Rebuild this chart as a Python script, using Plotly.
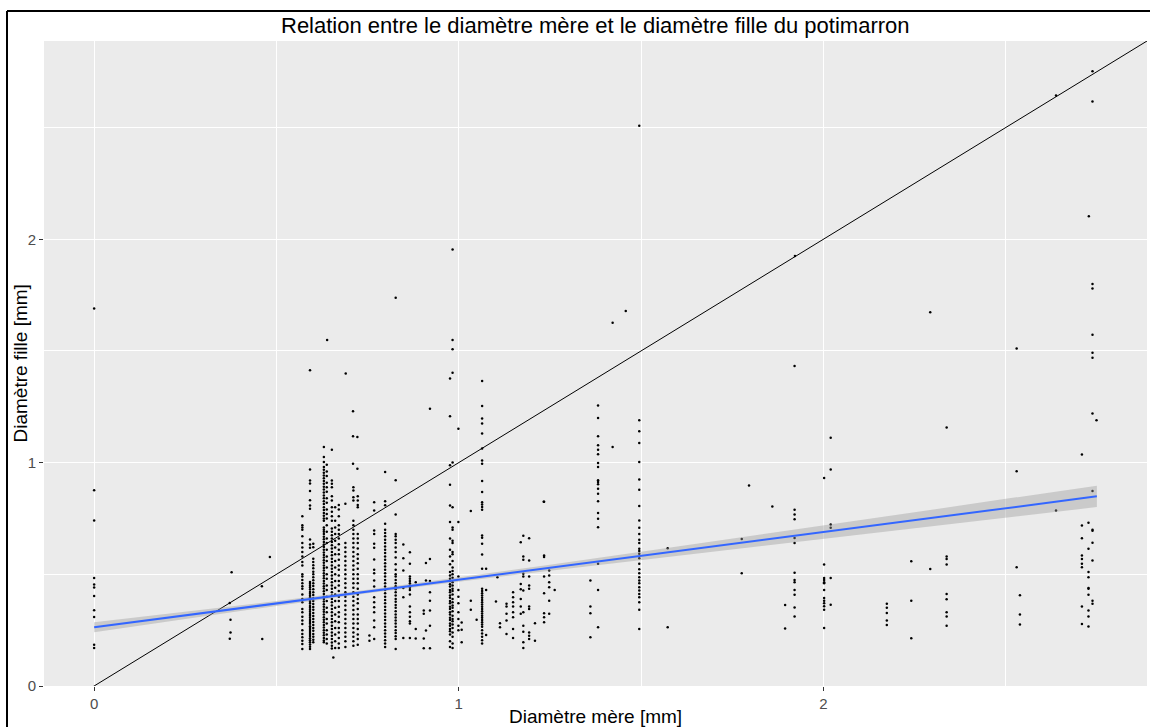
import numpy as np
import plotly.graph_objects as go

# --- isolated measurements (diamètre mère, diamètre fille) in mm ---
mere_isoles = [
    0, 0, 0, 0, 0, 0, 0, 0, 0, 0, 0,
    0.377, 0.372, 0.374, 0.374, 0.372, 0.460, 0.461, 0.482,
    0.639, 0.592, 0.690, 0.710, 0.710, 0.722, 0.710, 0.722,
    0.921, 0.999, 0.827, 1.233, 1.422, 1.458, 1.495, 1.422,
    1.922, 2.638, 2.293, 2.338, 2.530, 2.530, 2.530, 2.638, 2.728, 2.749,
    1.776, 1.776, 1.796, 1.860, 1.895, 1.895, 2.241, 2.241, 2.241, 2.293,
    1.075, 1.075, 1.075, 1.033, 1.033, 1.033, 1.049, 1.008, 1.008, 1.008,
    1.102, 1.106, 1.113, 1.113, 1.209, 1.209, 1.263, 1.573, 1.573,
    0.882, 0.882, 0.882, 0.904, 0.904, 0.904, 0.904, 0.910, 0.910, 0.910,
    0.755, 0.755, 0.656,
]
fille_isoles = [
    1.69, 0.876, 0.741, 0.483, 0.454, 0.441, 0.403, 0.339, 0.309, 0.185, 0.170,
    0.509, 0.372, 0.297, 0.239, 0.212, 0.447, 0.210, 0.577,
    1.549, 1.414, 1.399, 1.230, 1.118, 1.115, 0.995, 0.973,
    1.241, 1.152, 1.738, 0.825, 1.626, 1.679, 2.508, 1.070,
    1.925, 2.643, 1.673, 1.157, 1.511, 0.961, 0.532, 0.786, 2.103, 1.190,
    0.658, 0.505, 0.898, 0.804, 0.363, 0.257, 0.559, 0.382, 0.214, 0.524,
    0.525, 0.430, 0.228, 0.783, 0.382, 0.341, 0.297, 0.196, 0.252, 0.284,
    0.378, 0.487, 0.281, 0.263, 0.281, 0.203, 0.430, 0.617, 0.263,
    0.465, 0.255, 0.213, 0.338, 0.323, 0.213, 0.169, 0.551, 0.472, 0.248,
    0.226, 0.203, 0.128,
]

# --- columns of repeated mother diameters ---
colonnes_mere = [
    0.571, 0.592, 0.601, 0.630, 0.638, 0.652, 0.661, 0.671, 0.689, 0.711,
    0.723, 0.768, 0.798, 0.827, 0.848, 0.866, 0.921, 0.976, 0.983, 0.999,
    1.064, 1.131, 1.149, 1.170, 1.177, 1.193, 1.234, 1.248, 1.361, 1.382,
    1.495, 1.921, 2.002, 2.020, 2.174, 2.338, 2.539, 2.709, 2.727, 2.738,
]
colonnes_fille = [
    [0.76, 0.72, 0.71, 0.70, 0.67, 0.64, 0.62, 0.60, 0.58, 0.555, 0.54, 0.50, 0.49, 0.475, 0.46, 0.447,
     0.435, 0.41, 0.39, 0.375, 0.345, 0.33, 0.31, 0.293, 0.278, 0.25, 0.233, 0.218, 0.203, 0.188, 0.166],
    [0.969, 0.92, 0.906, 0.873, 0.831, 0.808, 0.793, 0.656, 0.634, 0.619, 0.466, 0.458, 0.449, 0.441,
     0.432, 0.421, 0.413, 0.404, 0.396, 0.386, 0.377, 0.369, 0.358, 0.350, 0.341, 0.332, 0.322, 0.314,
     0.305, 0.296, 0.287, 0.279, 0.268, 0.260, 0.251, 0.242, 0.233, 0.224, 0.214, 0.205, 0.196, 0.186,
     0.176, 0.166],
    [0.637, 0.621, 0.57, 0.555, 0.541, 0.527, 0.512, 0.50, 0.487, 0.473, 0.46, 0.448, 0.433, 0.42, 0.407,
     0.393, 0.38, 0.367, 0.354, 0.341, 0.327, 0.313, 0.30, 0.287, 0.273, 0.26, 0.247, 0.233, 0.22, 0.207,
     0.196],
    [1.07, 1.025, 1.003, 0.98, 0.968, 0.955, 0.942, 0.93, 0.918, 0.905, 0.892, 0.88, 0.866, 0.853, 0.84,
     0.827, 0.815, 0.80, 0.788, 0.775, 0.762, 0.75, 0.74, 0.71, 0.70, 0.69, 0.68, 0.668, 0.657, 0.645,
     0.633, 0.622, 0.61, 0.598, 0.587, 0.575, 0.563, 0.552, 0.54, 0.528, 0.517, 0.505, 0.494, 0.482,
     0.47, 0.459, 0.447, 0.436, 0.424, 0.412, 0.40, 0.39, 0.378, 0.366, 0.355, 0.343, 0.332, 0.32, 0.308,
     0.297, 0.285, 0.273, 0.262, 0.25, 0.238, 0.227, 0.215, 0.204, 0.196],
    [0.99, 0.96, 0.94, 0.91, 0.89, 0.87, 0.84, 0.82, 0.79, 0.77, 0.75, 0.72, 0.69, 0.66, 0.64, 0.61,
     0.58, 0.56, 0.53, 0.50, 0.48, 0.45, 0.43, 0.40, 0.38, 0.35, 0.33, 0.30, 0.28, 0.25, 0.23, 0.21, 0.19],
    [1.058, 0.92, 0.905, 0.89, 0.85, 0.83, 0.80, 0.78, 0.76, 0.74, 0.705, 0.69, 0.675, 0.66, 0.645, 0.63,
     0.615, 0.60, 0.585, 0.57, 0.555, 0.54, 0.525, 0.51, 0.495, 0.48, 0.465, 0.45, 0.435, 0.42, 0.405,
     0.39, 0.375, 0.36, 0.345, 0.33, 0.315, 0.30, 0.285, 0.27, 0.255, 0.24, 0.225, 0.21, 0.195, 0.18, 0.168],
    [0.80, 0.74, 0.71, 0.68, 0.65, 0.62, 0.59, 0.56, 0.53, 0.50, 0.47, 0.44, 0.41, 0.38, 0.35, 0.32,
     0.29, 0.26, 0.23, 0.20, 0.17],
    [0.81, 0.79, 0.76, 0.72, 0.70, 0.68, 0.66, 0.635, 0.61, 0.59, 0.565, 0.54, 0.52, 0.495, 0.47, 0.45,
     0.425, 0.40, 0.38, 0.355, 0.33, 0.31, 0.285, 0.26, 0.24, 0.215, 0.19, 0.17],
    [0.816, 0.64, 0.62, 0.60, 0.58, 0.56, 0.54, 0.52, 0.50, 0.48, 0.46, 0.44, 0.42, 0.40, 0.38, 0.36,
     0.34, 0.32, 0.30, 0.28, 0.26, 0.24, 0.22, 0.20, 0.175],
    [0.89, 0.875, 0.845, 0.83, 0.74, 0.72, 0.70, 0.68, 0.66, 0.64, 0.62, 0.60, 0.58, 0.56, 0.54, 0.52,
     0.50, 0.48, 0.46, 0.44, 0.42, 0.40, 0.38, 0.36, 0.34, 0.32, 0.30, 0.28, 0.26, 0.24, 0.22, 0.20, 0.18],
    [0.85, 0.83, 0.81, 0.80, 0.68, 0.66, 0.64, 0.615, 0.59, 0.57, 0.55, 0.525, 0.50, 0.48, 0.46, 0.435,
     0.41, 0.39, 0.37, 0.345, 0.32, 0.30, 0.28, 0.255, 0.23, 0.21, 0.185],
    [0.823, 0.786, 0.696, 0.681, 0.637, 0.619, 0.566, 0.520, 0.505, 0.472, 0.445, 0.397, 0.375, 0.353,
     0.330, 0.293, 0.263, 0.21],
    [0.958, 0.827, 0.809, 0.726, 0.70, 0.685, 0.67, 0.655, 0.64, 0.625, 0.61, 0.595, 0.58, 0.565, 0.55,
     0.535, 0.52, 0.505, 0.49, 0.475, 0.46, 0.445, 0.43, 0.415, 0.40, 0.385, 0.37, 0.355, 0.34, 0.325,
     0.31, 0.295, 0.28, 0.265, 0.25, 0.235, 0.22, 0.205, 0.19, 0.175],
    [0.921, 0.768, 0.68, 0.67, 0.655, 0.64, 0.62, 0.60, 0.575, 0.545, 0.52, 0.50, 0.49, 0.475, 0.46,
     0.447, 0.433, 0.42, 0.405, 0.39, 0.377, 0.363, 0.35, 0.335, 0.32, 0.307, 0.293, 0.28, 0.265, 0.25,
     0.237, 0.223, 0.21, 0.166],
    [0.634, 0.572, 0.517, 0.439, 0.397, 0.215],
    [0.599, 0.547, 0.49, 0.48, 0.47, 0.46, 0.45, 0.44, 0.43, 0.41, 0.356, 0.33, 0.31, 0.29, 0.28, 0.215],
    [0.569, 0.47, 0.42, 0.382, 0.338, 0.27, 0.169],
    [1.377, 1.208, 0.988, 0.901, 0.808, 0.734, 0.66, 0.61, 0.58, 0.545, 0.51, 0.495, 0.48, 0.47, 0.455,
     0.445, 0.43, 0.42, 0.405, 0.395, 0.38, 0.37, 0.355, 0.345, 0.33, 0.32, 0.305, 0.295, 0.28, 0.27,
     0.255, 0.245, 0.23, 0.20, 0.175],
    [1.954, 1.549, 1.507, 1.402, 1.0, 0.80, 0.71, 0.70, 0.65, 0.64, 0.60, 0.59, 0.56, 0.53, 0.515, 0.50,
     0.485, 0.465, 0.45, 0.435, 0.425, 0.41, 0.39, 0.375, 0.36, 0.35, 0.335, 0.315, 0.30, 0.29, 0.275,
     0.26, 0.24, 0.22, 0.19, 0.17],
    [0.734, 0.490, 0.43, 0.40, 0.37, 0.33, 0.30, 0.27, 0.25],
    [1.365, 1.253, 1.197, 1.175, 1.130, 1.063, 1.010, 0.995, 0.918, 0.868, 0.823, 0.813, 0.801, 0.789,
     0.674, 0.664, 0.637, 0.589, 0.525, 0.435, 0.425, 0.415, 0.405, 0.395, 0.385, 0.375, 0.365, 0.355,
     0.345, 0.335, 0.325, 0.315, 0.305, 0.295, 0.285, 0.275, 0.265, 0.25, 0.235, 0.22, 0.205, 0.19],
    [0.368, 0.356, 0.323, 0.293, 0.233],
    [0.420, 0.397, 0.375, 0.356, 0.330, 0.308, 0.255, 0.215],
    [0.644, 0.457, 0.433, 0.390, 0.356, 0.323],
    [0.673, 0.580, 0.565, 0.502, 0.490, 0.427, 0.330, 0.270, 0.243, 0.196, 0.170],
    [0.661, 0.562, 0.490, 0.450, 0.435, 0.356, 0.345, 0.240, 0.225, 0.210],
    [0.825, 0.584, 0.577, 0.490, 0.415, 0.326, 0.308, 0.285],
    [0.517, 0.495, 0.465, 0.442, 0.382, 0.323],
    [0.472, 0.356, 0.326, 0.218],
    [1.256, 1.200, 1.118, 1.078, 1.058, 1.037, 0.998, 0.980, 0.921, 0.913, 0.903, 0.883, 0.861, 0.827,
     0.774, 0.749, 0.711, 0.547, 0.430, 0.263],
    [1.190, 1.140, 1.088, 1.003, 0.924, 0.879, 0.806, 0.741, 0.708, 0.681, 0.655, 0.640, 0.614, 0.604,
     0.592, 0.572, 0.547, 0.523, 0.505, 0.487, 0.472, 0.460, 0.442, 0.427, 0.412, 0.397, 0.375, 0.341,
     0.255],
    [1.432, 0.789, 0.768, 0.746, 0.662, 0.640, 0.507, 0.475, 0.465, 0.430, 0.408, 0.351, 0.311],
    [0.931, 0.544, 0.483, 0.475, 0.465, 0.460, 0.430, 0.394, 0.382, 0.370, 0.357, 0.341, 0.260],
    [1.111, 0.969, 0.723, 0.708, 0.483, 0.364],
    [0.368, 0.350, 0.327, 0.293, 0.273],
    [0.580, 0.569, 0.544, 0.412, 0.388, 0.330, 0.311, 0.270],
    [0.406, 0.320, 0.275],
    [1.036, 0.719, 0.661, 0.584, 0.569, 0.547, 0.532, 0.356, 0.278],
    [0.731, 0.614, 0.510, 0.487, 0.439, 0.435, 0.408, 0.338, 0.311, 0.266],
    [2.752, 2.617, 1.80, 1.78, 1.573, 1.492, 1.469, 1.220, 0.873, 0.699, 0.695, 0.641, 0.562, 0.382, 0.368],
]

# --- linear fit (geom_smooth, method = "lm") and its confidence band ---
fit_x_ends = [0.0, 2.75]
fit_y_ends = [0.263, 0.849]
bande_x = [0.0, 0.25, 0.5, 0.75, 1.0, 1.25, 1.5, 1.75, 2.0, 2.25, 2.5, 2.75]
bande_demi = [0.022, 0.016, 0.011, 0.008, 0.009, 0.013, 0.018, 0.023, 0.029, 0.035, 0.042, 0.048]

# axis limits
x_lim = [-0.1375, 2.8875]
y_lim = [0.0, 2.8875]

# assemble the scatter table
px_all = list(mere_isoles)
py_all = list(fille_isoles)
for xm, ys in zip(colonnes_mere, colonnes_fille):
    px_all.extend([xm] * len(ys))
    py_all.extend(ys)

bx = np.array(bande_x)
centre = np.interp(bx, fit_x_ends, fit_y_ends)
haut = centre + np.array(bande_demi)
bas = centre - np.array(bande_demi)

FONT = "Liberation Sans, Arial, Helvetica, sans-serif"

fig = go.Figure()
fig.add_trace(go.Scatter(
    x=px_all, y=py_all, mode="markers",
    marker=dict(color="black", size=2.5, line=dict(width=0)),
    hoverinfo="skip", showlegend=False,
))
fig.add_trace(go.Scatter(
    x=x_lim, y=x_lim, mode="lines",
    line=dict(color="black", width=1), hoverinfo="skip", showlegend=False,
))
fig.add_trace(go.Scatter(
    x=np.concatenate([bx, bx[::-1]]), y=np.concatenate([haut, bas[::-1]]),
    fill="toself", fillcolor="rgba(153,153,153,0.4)", line=dict(width=0),
    mode="lines", hoverinfo="skip", showlegend=False,
))
fig.add_trace(go.Scatter(
    x=fit_x_ends, y=fit_y_ends, mode="lines",
    line=dict(color="#3366FF", width=2), hoverinfo="skip", showlegend=False,
))

W, H = 1150, 727
ML, MR, MT, MB = 44, 3, 41, 41
pw, ph = W - ML - MR, H - MT - MB

axis_common = dict(
    showgrid=True, gridcolor="white", gridwidth=1.3,
    zeroline=False, showline=False,
    ticks="outside", ticklen=4, tickwidth=1, tickcolor="#333333",
    tickfont=dict(family=FONT, size=15, color="#4D4D4D"),
    tick0=0, dtick=1,
    minor=dict(dtick=0.5, tick0=0, showgrid=True, gridcolor="white", gridwidth=0.6, ticks=""),
)
fig.update_xaxes(range=x_lim, **axis_common)
fig.update_yaxes(range=y_lim, **axis_common)

fig.update_layout(
    width=W, height=H,
    margin=dict(l=ML, r=MR, t=MT, b=MB),
    paper_bgcolor="white", plot_bgcolor="#EBEBEB",
    font=dict(family=FONT),
    annotations=[
        dict(text="Relation entre le diamètre mère et le diamètre fille du potimarron",
             xref="paper", yref="paper", x=0.5, y=1 + (MT - 25) / ph,
             xanchor="center", yanchor="middle", showarrow=False,
             font=dict(family=FONT, size=22, color="black")),
        dict(text="Diamètre mère [mm]", xref="paper", yref="paper",
             x=0.5, y=-(716 - (H - MB)) / ph, xanchor="center", yanchor="middle",
             showarrow=False, font=dict(family=FONT, size=19, color="black")),
        dict(text="Diamètre fille [mm]", xref="paper", yref="paper",
             x=(20 - ML) / pw, y=0.5, xanchor="center", yanchor="middle", textangle=-90,
             showarrow=False, font=dict(family=FONT, size=19, color="black")),
    ],
    shapes=[
        dict(type="line", xref="paper", yref="paper",
             x0=(7 - ML) / pw, x1=(W + 10 - ML) / pw,
             y0=1 + (MT - 11) / ph, y1=1 + (MT - 11) / ph,
             line=dict(color="black", width=2)),
        dict(type="line", xref="paper", yref="paper",
             x0=(7 - ML) / pw, x1=(7 - ML) / pw,
             y0=1 + (MT - 11) / ph, y1=-(MB + 10) / ph,
             line=dict(color="black", width=2)),
    ],
)

fig.write_html("out.html")
